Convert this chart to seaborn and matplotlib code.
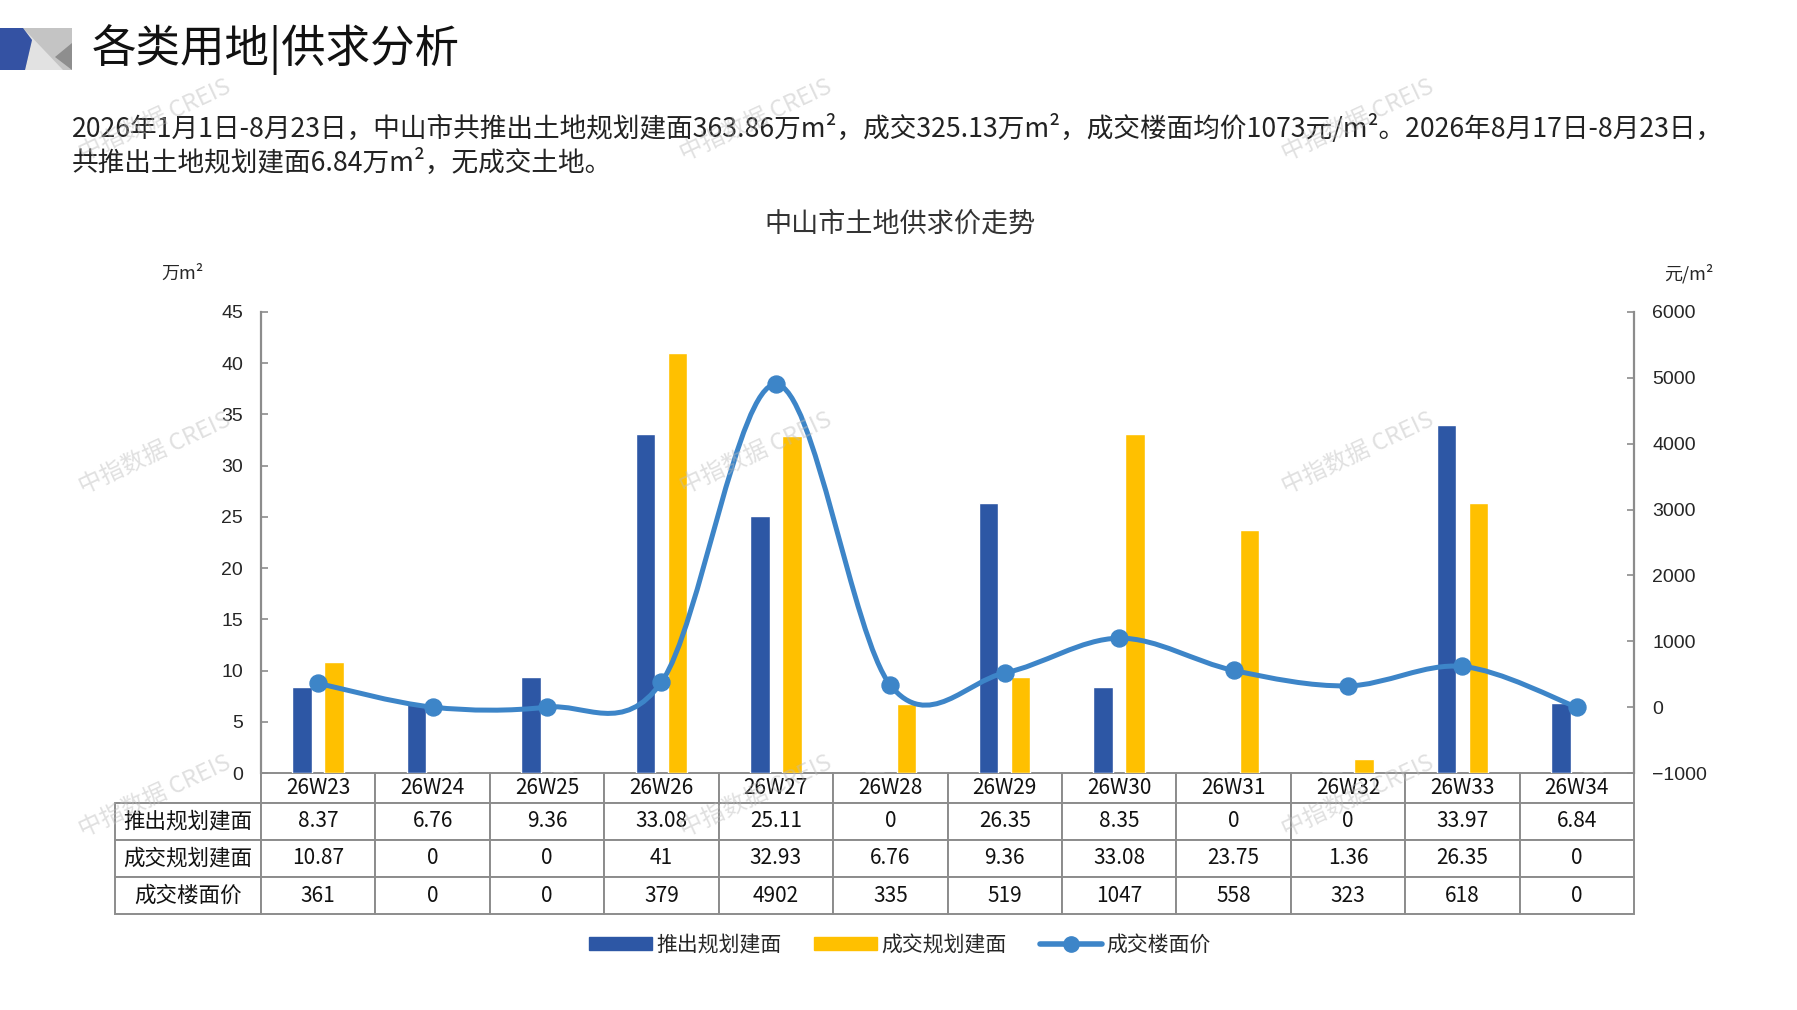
import numpy as np
import pandas as pd
import matplotlib
matplotlib.use("Agg")
import matplotlib.pyplot as plt
import seaborn as sns
from matplotlib.path import Path
from matplotlib.patches import PathPatch, Patch, Polygon
from matplotlib.lines import Line2D

# %% Data
weeks = ["26W23", "26W24", "26W25", "26W26", "26W27", "26W28",
         "26W29", "26W30", "26W31", "26W32", "26W33", "26W34"]
supply = [8.37, 6.76, 9.36, 33.08, 25.11, 0, 26.35, 8.35, 0, 0, 33.97, 6.84]
deal = [10.87, 0, 0, 41, 32.93, 6.76, 9.36, 33.08, 23.75, 1.36, 26.35, 0]
price = [361, 0, 0, 379, 4902, 335, 519, 1047, 558, 323, 618, 0]
table_text = [
    ["8.37", "6.76", "9.36", "33.08", "25.11", "0", "26.35", "8.35", "0", "0", "33.97", "6.84"],
    ["10.87", "0", "0", "41", "32.93", "6.76", "9.36", "33.08", "23.75", "1.36", "26.35", "0"],
    ["361", "0", "0", "379", "4902", "335", "519", "1047", "558", "323", "618", "0"],
]
row_names = ["推出规划建面", "成交规划建面", "成交楼面价"]

BLUE = "#2D57A5"
YELLOW = "#FFC000"
LINE = "#3D85C8"
GRID = "#8C8C8C"

sns.set_theme(style="white")
plt.rcParams["font.family"] = ["Noto Sans CJK SC", "DejaVu Sans"]

W, H = 1797, 1010
fig = plt.figure(figsize=(W / 100, H / 100), dpi=100)

# %% Header
def px(x, y):
    return (x / W, 1 - y / H)

fig.add_artist(Polygon([px(23, 28), px(72, 28), px(72, 70), px(23, 70)],
                       closed=True, transform=fig.transFigure, fc="#C4C4C4", ec="none"))
fig.add_artist(Polygon([px(23, 28), px(63, 70), px(25, 70), px(32, 40)],
                       closed=True, transform=fig.transFigure, fc="#E2E2E2", ec="none"))
fig.add_artist(Polygon([px(72, 43), px(72, 70), px(55, 57)],
                       closed=True, transform=fig.transFigure, fc="#8E8E8E", ec="none"))
fig.add_artist(Polygon([px(0, 28), px(23, 28), px(32, 40), px(25, 70), px(0, 70)],
                       closed=True, transform=fig.transFigure, fc="#3452A3", ec="none"))

fig.text(92 / W, 1 - 50 / H, "各类用地|供求分析", fontsize=32, va="center", ha="left", color="#111111")

line1 = ("2026年1月1日-8月23日，中山市共推出土地规划建面363.86万m²，成交325.13万m²，"
         "成交楼面均价1073元/m²。2026年8月17日-8月23日，")
line2 = "共推出土地规划建面6.84万m²，无成交土地。"
fig.text(72 / W, 1 - 129 / H, line1, fontsize=19.2, va="center", ha="left", color="#222222")
fig.text(72 / W, 1 - 163 / H, line2, fontsize=19.2, va="center", ha="left", color="#222222")

# %% Main axes
ax = fig.add_axes([261 / W, 1 - 773 / H, (1634 - 261) / W, (773 - 312) / H])

df = pd.DataFrame({
    "week": weeks * 2,
    "value": supply + deal,
    "series": ["推出规划建面"] * len(weeks) + ["成交规划建面"] * len(weeks),
})
sns.barplot(data=df, x="week", y="value", hue="series", order=weeks,
            palette={"推出规划建面": BLUE, "成交规划建面": YELLOW},
            width=0.56, gap=0.39, saturation=1, ax=ax, legend=False)

ax.set_xlim(-0.5, len(weeks) - 0.5)
ax.set_ylim(0, 45)
ax.set_yticks(np.arange(0, 46, 5))
ax.set_xlabel("")
ax.set_ylabel("")
ax.set_xticks([])
for s in ["top", "right", "bottom"]:
    ax.spines[s].set_visible(False)
ax.spines["left"].set_color(GRID)
ax.spines["left"].set_linewidth(1.6)
ax.tick_params(axis="y", direction="in", length=5, width=1.2, color=GRID,
               pad=13, labelsize=14, left=True)
for t in ax.get_yticklabels():
    t.set_fontfamily(["Liberation Sans", "DejaVu Sans"])

# %% Price axis
ax2 = ax.twinx()
ax2.set_ylim(-1000, 6000)
ax2.set_yticks(np.arange(-1000, 6001, 1000))
for s in ["top", "left", "bottom"]:
    ax2.spines[s].set_visible(False)
ax2.spines["right"].set_color(GRID)
ax2.spines["right"].set_linewidth(1.6)
ax2.tick_params(axis="y", direction="in", length=5, width=1.2, color=GRID,
                pad=13, labelsize=14, right=True)
for t in ax2.get_yticklabels():
    t.set_fontfamily(["Liberation Sans", "DejaVu Sans"])
ax2.grid(False)
ax.grid(False)

# smoothed line like the spreadsheet: cubic bezier segments through the points
pts = np.column_stack([np.arange(len(price)), np.array(price, dtype=float)])
verts = [tuple(pts[0])]
codes = [Path.MOVETO]
n = len(pts)
for i in range(n - 1):
    p_prev = pts[max(i - 1, 0)]
    p0 = pts[i]
    p1 = pts[i + 1]
    p_next = pts[min(i + 2, n - 1)]
    c1 = p0 + (p1 - p_prev) / 6
    c2 = p1 - (p_next - p0) / 6
    verts += [tuple(c1), tuple(c2), tuple(p1)]
    codes += [Path.CURVE4] * 3
ax2.add_patch(PathPatch(Path(verts, codes), fc="none", ec=LINE, lw=3.6,
                        capstyle="round", joinstyle="round", zorder=3))
sns.scatterplot(x=pts[:, 0], y=pts[:, 1], ax=ax2, color=LINE, s=150,
                edgecolor=LINE, zorder=4, legend=False)
ax2.set_xlim(-0.5, len(weeks) - 0.5)

ax.text(-0.057, 1.082, "万m²", transform=ax.transAxes, fontsize=13, ha="center", va="center")
ax.text(1.04, 1.082, "元/m²", transform=ax.transAxes, fontsize=13, ha="center", va="center")
ax.text(0.367, 1.19, "中山市土地供求价走势", transform=ax.transAxes, fontsize=19.5,
        ha="left", va="center", color="#333333")

# %% Data table under the axes
cells = [[row_names[r]] + table_text[r] for r in range(3)]
col_w = [146] + [114.4] * len(weeks)
tab = ax.table(cellText=cells, colLabels=[""] + weeks, cellLoc="center",
               colWidths=[w / sum(col_w) for w in col_w],
               bbox=[-146 / 1373, -(914 - 773) / 461, (1634 - 115) / 1373, (914 - 773) / 461])
tab.auto_set_font_size(False)
tab.set_fontsize(15)
row_h = [30, 37, 38, 37]
for (r, c), cell in tab.get_celld().items():
    cell.set_edgecolor(GRID)
    cell.set_linewidth(1.4)
    cell.set_height(row_h[r] / 1000)
    cell.get_text().set_color("#111111")
    if c == 0:
        cell.get_text().set_fontsize(15.5)
    if r == 0 and c == 0:
        cell.visible_edges = "BR"

# %% Legend
handles = [
    Patch(color=BLUE, label="推出规划建面"),
    Patch(color=YELLOW, label="成交规划建面"),
    Line2D([0], [0], color=LINE, lw=4, marker="o", markersize=11, label="成交楼面价"),
]
fig.legend(handles=handles, loc="center", bbox_to_anchor=(900 / W, 1 - 945 / H), ncol=3,
           frameon=False, fontsize=15, handlelength=3.0, handleheight=0.6,
           columnspacing=1.6, handletextpad=0.2)

# %% Watermarks
for wx in [155, 756, 1358]:
    for wy in [120, 453, 796]:
        fig.text(wx / W, 1 - wy / H, "中指数据 CREIS", fontsize=17, rotation=25,
                 ha="center", va="center", color="#BBBBBB", alpha=0.45, zorder=10)

fig.savefig("out.png", dpi=100)
